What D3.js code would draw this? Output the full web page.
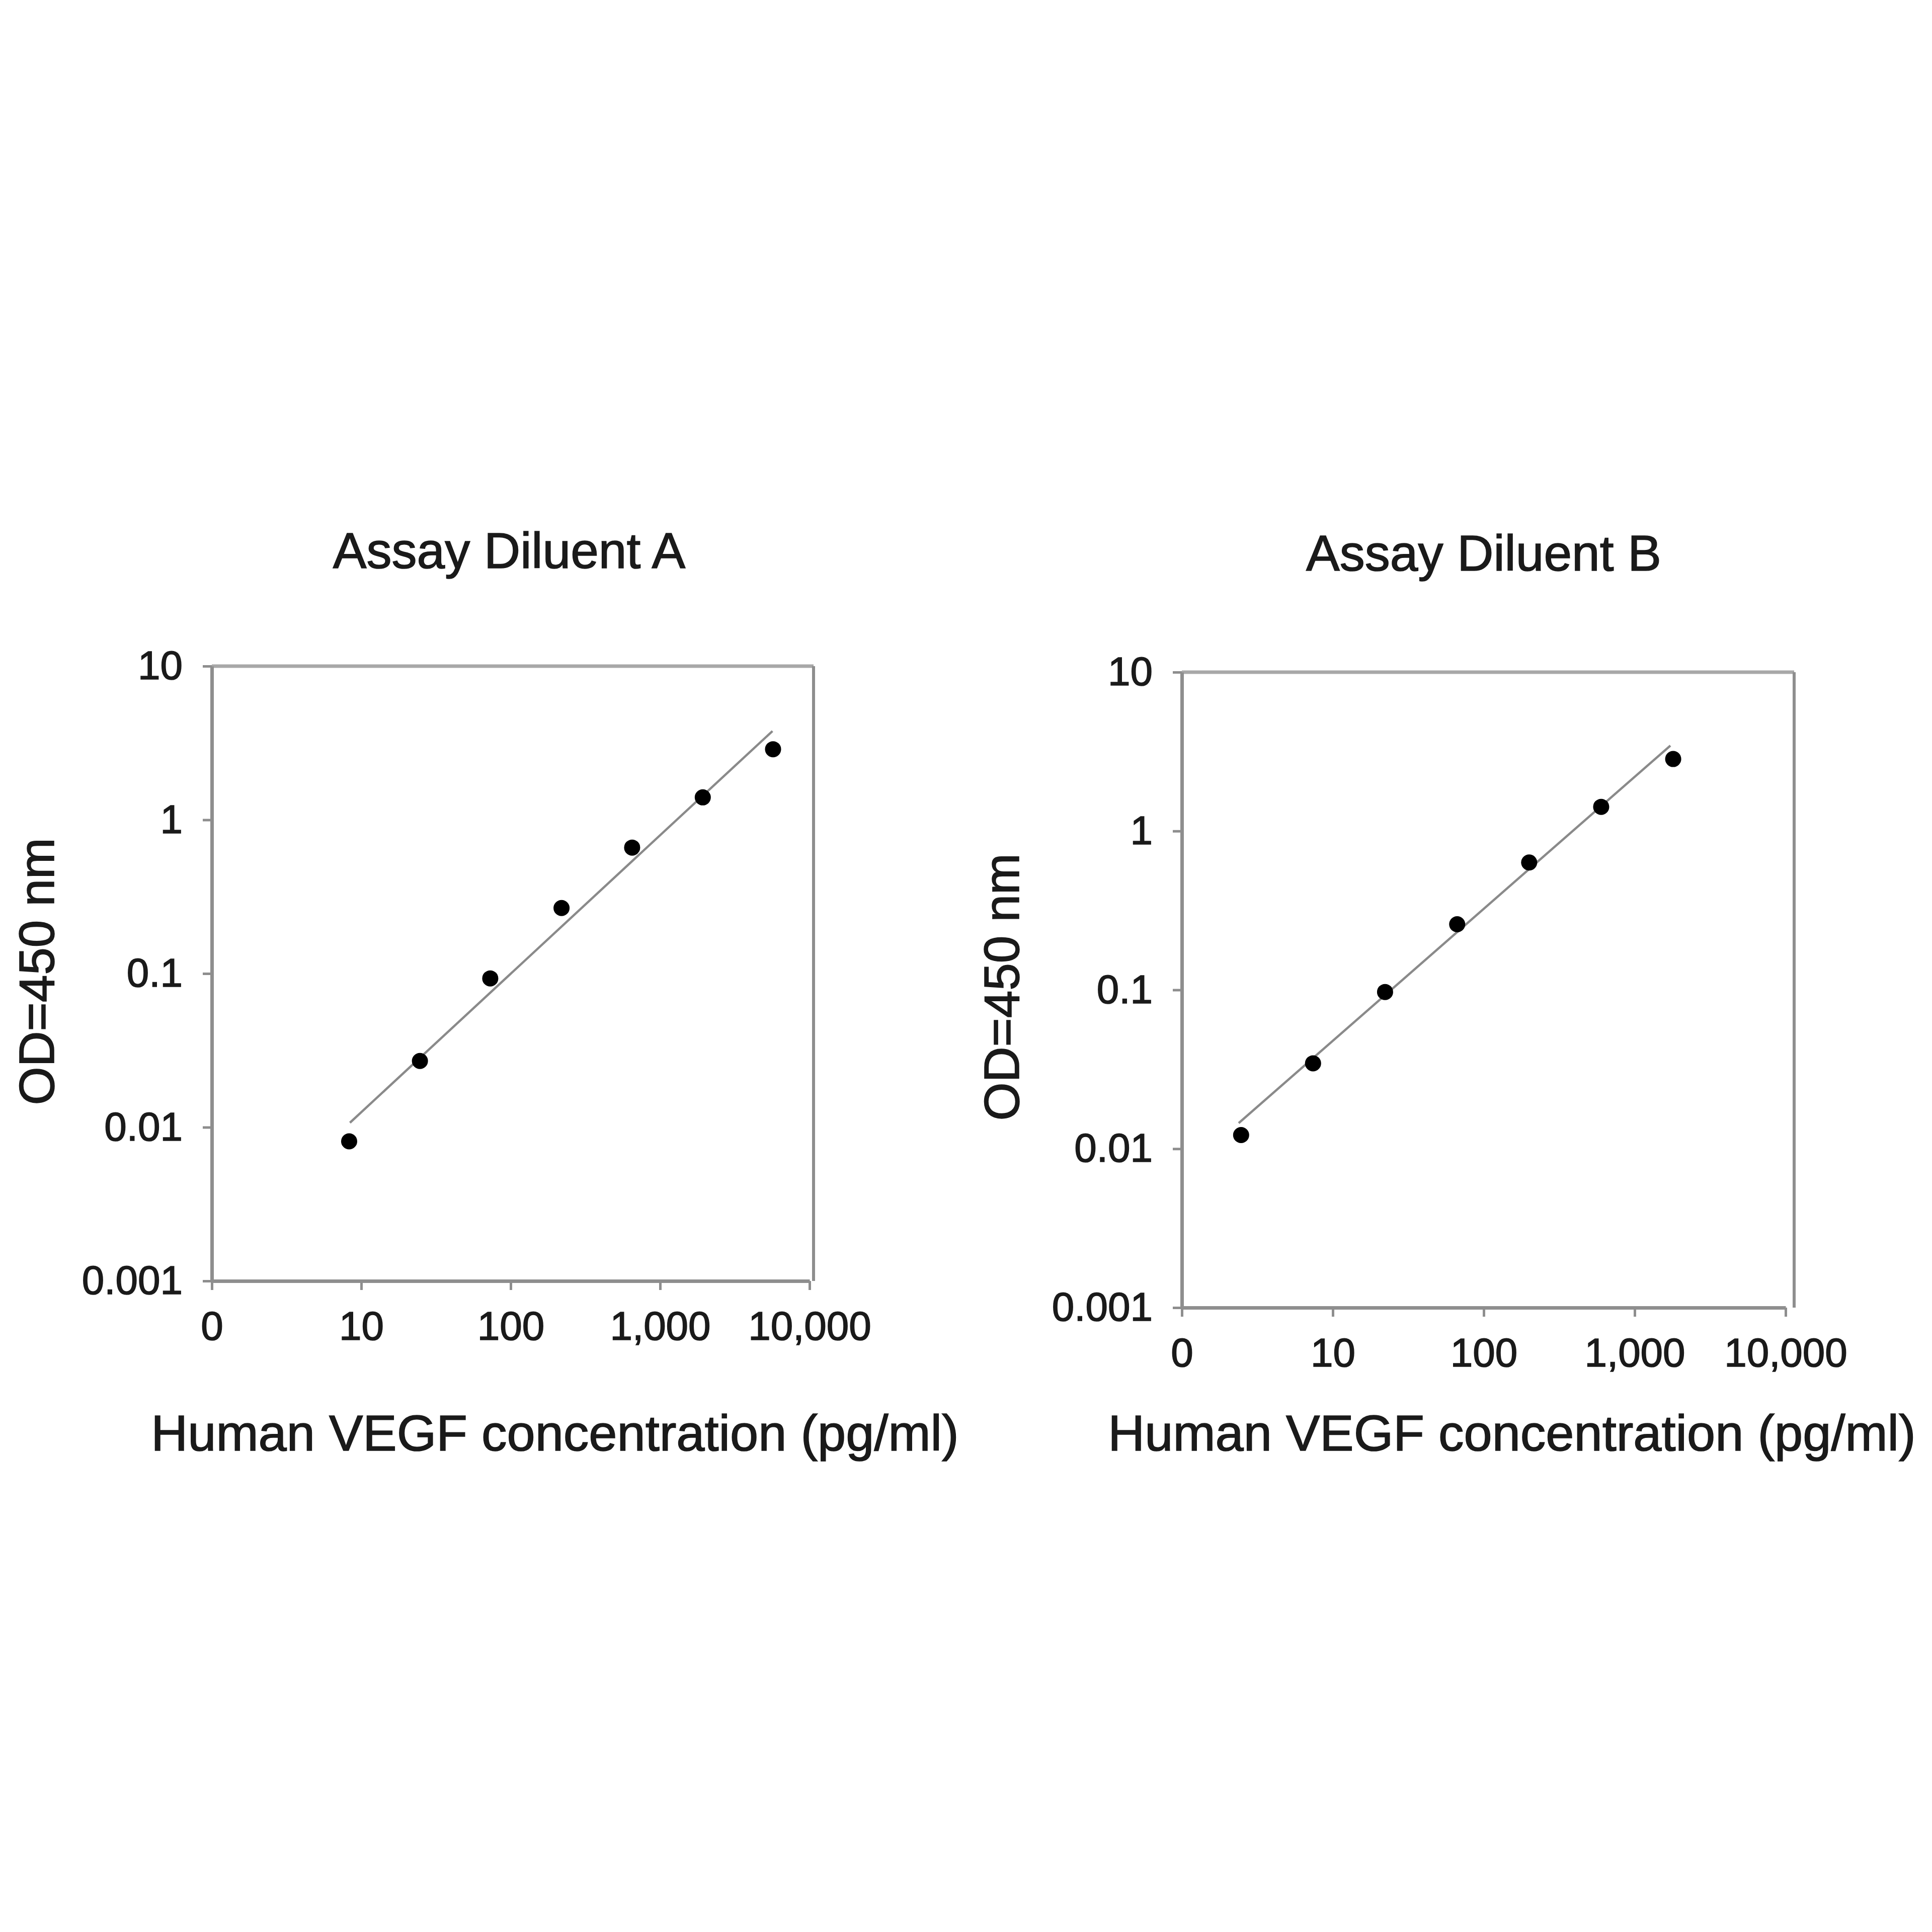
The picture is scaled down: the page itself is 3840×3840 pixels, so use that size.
<!DOCTYPE html>
<html>
<head>
<meta charset="utf-8">
<script src="https://cdn.jsdelivr.net/npm/d3@7"></script>
<style>
  body { margin: 0; background: #fff; }
  svg { display: block; font-family: "Liberation Sans", Arial, sans-serif; }
</style>
</head>
<body>
<svg id="chart"></svg>
<script>
// data
const panelTitles = ["Assay Diluent A", "Assay Diluent B"];
const xTitle = "Human VEGF concentration (pg/ml)";
const yTitle = "OD=450 nm";

const concA = [8.3, 24.7, 73, 219, 650, 1930, 5700];
const odA = [0.0081, 0.027, 0.093, 0.267, 0.66, 1.40, 2.88];
const fitConcA = [8.4, 5650];
const fitOdA = [0.0107, 3.78];

const concB = [2.47, 7.4, 22.2, 66.7, 200, 600, 1800];
const odB = [0.0122, 0.0345, 0.097, 0.259, 0.634, 1.42, 2.84];
const fitConcB = [2.38, 1725];
const fitOdB = [0.0145, 3.45];

const xTickValues = [1, 10, 100, 1000, 10000];
const xTickLabels = ["0", "10", "100", "1,000", "10,000"];
const yTickValues = [0.001, 0.01, 0.1, 1, 10];
const yTickLabels = ["0.001", "0.01", "0.1", "1", "10"];

const W = 3840, H = 3840;
const svg = d3.select("#chart").attr("width", W).attr("height", H);
svg.append("rect").attr("width", W).attr("height", H).attr("fill", "#fff");

// layout for each panel
const panels = [
  { title: panelTitles[0], conc: concA, od: odA, fitC: fitConcA, fitO: fitOdA,
    left: 421, right: 1609, frameRight: 1617, top: 1324, bottom: 2546,
    titleX: 1012, titleY: 1129, xTitleX: 1103, xTitleY: 2883, yTitleX: 73, yTitleY: 1931 },
  { title: panelTitles[1], conc: concB, od: odB, fitC: fitConcB, fitO: fitOdB,
    left: 2349, right: 3549, frameRight: 3566, top: 1336, bottom: 2599,
    titleX: 2949, titleY: 1134, xTitleX: 3005, xTitleY: 2883, yTitleX: 1991, yTitleY: 1962 }
];

const axisColor = "#8e8e8e";
const frameColor = "#a8a8a8";
const textColor = "#1a1a1a";

// slightly heavier text, the reference glyphs are thick
function inkText(sel, size) {
  sel.attr("fill", textColor)
    .attr("stroke", textColor)
    .attr("stroke-width", 1.6)
    .style("font-size", size + "px")
    .style("font-family", "'Liberation Sans', Arial, sans-serif");
}

panels.forEach(p => {
  const x = d3.scaleLog().domain([1, 10000]).range([p.left, p.right]);
  const y = d3.scaleLog().domain([0.001, 10]).range([p.bottom, p.top]);
  const g = svg.append("g");

  // top and right frame
  g.append("line")
    .attr("x1", p.left).attr("x2", p.frameRight)
    .attr("y1", p.top).attr("y2", p.top)
    .attr("stroke", frameColor).attr("stroke-width", 7);
  g.append("line")
    .attr("x1", p.frameRight).attr("x2", p.frameRight)
    .attr("y1", p.top).attr("y2", p.bottom)
    .attr("stroke", axisColor).attr("stroke-width", 6);

  const xAxis = d3.axisBottom(x)
    .tickValues(xTickValues)
    .tickFormat((d, i) => xTickLabels[i])
    .tickSize(18).tickSizeOuter(0).tickPadding(42);
  const yAxis = d3.axisLeft(y)
    .tickValues(yTickValues)
    .tickFormat((d, i) => yTickLabels[i])
    .tickSize(18).tickSizeOuter(0).tickPadding(40);

  const gx = g.append("g")
    .attr("transform", "translate(0," + p.bottom + ")")
    .call(xAxis);
  const gy = g.append("g")
    .attr("transform", "translate(" + p.left + ",0)")
    .call(yAxis);

  [gx, gy].forEach(a => {
    a.select(".domain").attr("stroke", axisColor).attr("stroke-width", 7);
    a.selectAll(".tick line").attr("stroke", axisColor).attr("stroke-width", 5);
    a.selectAll(".tick text").call(inkText, 80);
  });

  // fit line
  g.append("path")
    .datum(p.fitC.map((c, i) => [c, p.fitO[i]]))
    .attr("fill", "none")
    .attr("stroke", "#8a8a8a")
    .attr("stroke-width", 4.5)
    .attr("d", d3.line().x(d => x(d[0])).y(d => y(d[1])));

  // points
  g.selectAll(".pt")
    .data(p.conc.map((c, i) => [c, p.od[i]]))
    .join("circle")
    .attr("class", "pt")
    .attr("cx", d => x(d[0]))
    .attr("cy", d => y(d[1]))
    .attr("r", 16)
    .attr("fill", "#000");

  g.append("text")
    .attr("x", p.titleX).attr("y", p.titleY)
    .attr("text-anchor", "middle")
    .call(inkText, 100)
    .text(p.title);

  g.append("text")
    .attr("x", p.xTitleX).attr("y", p.xTitleY)
    .attr("text-anchor", "middle")
    .call(inkText, 101)
    .text(xTitle);

  g.append("text")
    .attr("transform", "translate(" + p.yTitleX + "," + p.yTitleY + ") rotate(-90)")
    .attr("text-anchor", "middle")
    .attr("dominant-baseline", "central")
    .call(inkText, 98)
    .text(yTitle);
});
</script>
</body>
</html>
